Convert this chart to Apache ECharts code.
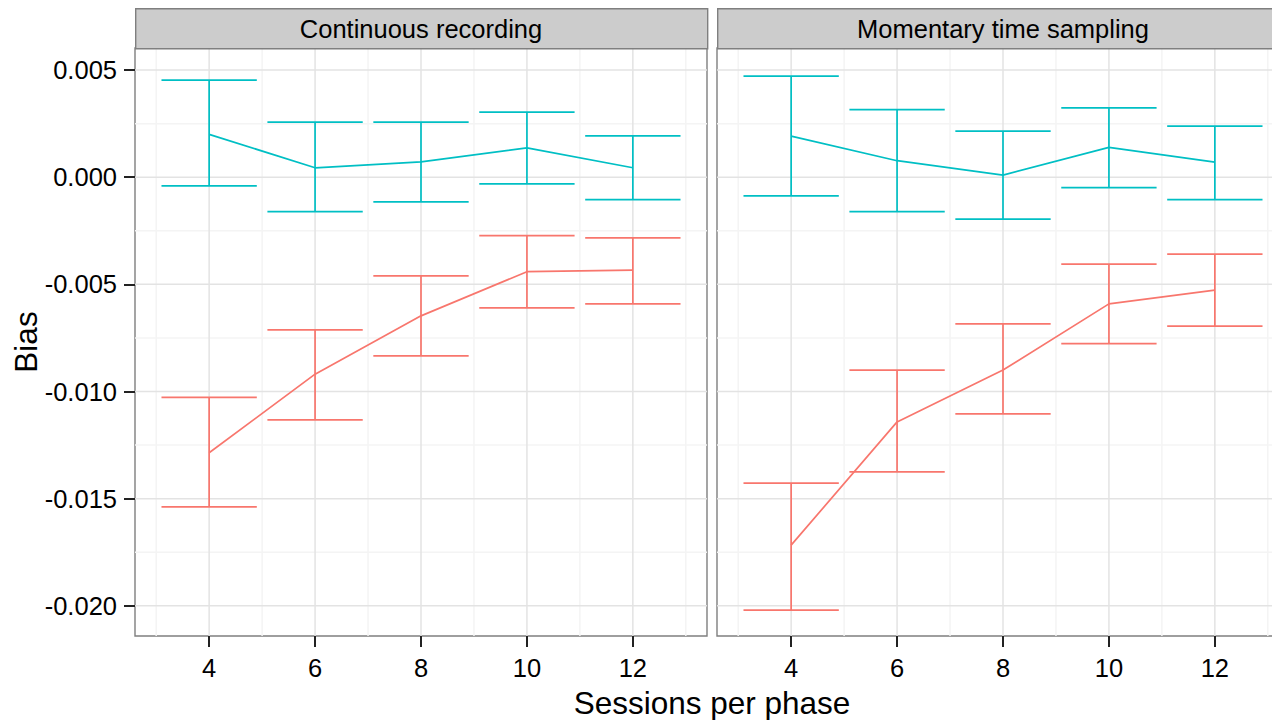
<!DOCTYPE html>
<html>
<head>
<meta charset="utf-8">
<title>Bias by sessions per phase</title>
<script src="https://cdn.jsdelivr.net/npm/echarts@6/dist/echarts.min.js"></script>
<style>
  html, body { margin: 0; padding: 0; background: #ffffff; overflow: hidden; width: 1272px; height: 720px; }
  #chart { width: 1290px; height: 720px; }
</style>
</head>
<body>
<div id="chart"></div>
<script>
// Sessions per phase (x positions of the estimates)
const sessions = [4, 6, 8, 10, 12];
const panelTitles = ['Continuous recording', 'Momentary time sampling'];

// Continuous recording: estimate with lower / upper interval bounds
const crRedMean  = [-0.01286, -0.00919, -0.00647, -0.00441, -0.00434];
const crRedLower = [-0.01538, -0.01132, -0.00834, -0.00610, -0.00591];
const crRedUpper = [-0.01027, -0.00712, -0.00460, -0.00273, -0.00283];
const crTealMean  = [0.00200, 0.00044, 0.00072, 0.00137, 0.00044];
const crTealLower = [-0.00040, -0.00161, -0.00115, -0.00031, -0.00105];
const crTealUpper = [0.00453, 0.00257, 0.00257, 0.00304, 0.00193];

// Momentary time sampling
const mtsRedMean  = [-0.01717, -0.01142, -0.00900, -0.00591, -0.00527];
const mtsRedLower = [-0.02020, -0.01375, -0.01104, -0.00777, -0.00695];
const mtsRedUpper = [-0.01428, -0.00900, -0.00684, -0.00406, -0.00359];
const mtsTealMean  = [0.00192, 0.00077, 0.00010, 0.00139, 0.00070];
const mtsTealLower = [-0.00087, -0.00161, -0.00196, -0.00049, -0.00105];
const mtsTealUpper = [0.00472, 0.00315, 0.00215, 0.00324, 0.00238];

// Axis ticks and labels
const xTicks = [4, 6, 8, 10, 12];
const xMinorTicks = [3, 5, 7, 9, 11, 13];
const yTicks = [-0.02, -0.015, -0.01, -0.005, 0, 0.005];
const yTickLabels = ['-0.020', '-0.015', '-0.010', '-0.005', '0.000', '0.005'];
const yMinorTicks = [-0.0175, -0.0125, -0.0075, -0.0025, 0.0025];

const RED = '#F8766D';
const TEAL = '#00BFC4';
const FONT = "'Liberation Sans', Arial, Helvetica, sans-serif";
const X_MIN = 2.6, X_MAX = 13.4;
const Y_MIN = -0.02141, Y_MAX = 0.00603;
const CAP_HALF = 0.9;
const MARK_WIDTH = 1.7;

const panels = [
  { red: [crRedMean, crRedLower, crRedUpper], teal: [crTealMean, crTealLower, crTealUpper] },
  { red: [mtsRedMean, mtsRedLower, mtsRedUpper], teal: [mtsTealMean, mtsTealLower, mtsTealUpper] }
];

// the second panel runs past the right edge of the 1272px view
const gridBoxes = [
  { left: 135, top: 48, width: 572, height: 588 },
  { left: 717, top: 48, width: 572, height: 588 }
];

// grid lines: [value, 0 = vertical / 1 = horizontal, 1 = major]
const gridLineData = [];
xMinorTicks.forEach(v => gridLineData.push([v, 0, 0]));
yMinorTicks.forEach(v => gridLineData.push([v, 1, 0]));
xTicks.forEach(v => gridLineData.push([v, 0, 1]));
yTicks.forEach(v => gridLineData.push([v, 1, 1]));

function renderGridLine(params, api) {
  const v = api.value(0);
  const vertical = api.value(1) === 0;
  const major = api.value(2) === 1;
  const cs = params.coordSys;
  let shape;
  if (vertical) {
    const px = api.coord([v, Y_MIN])[0];
    shape = { x1: px, y1: cs.y, x2: px, y2: cs.y + cs.height };
  } else {
    const py = api.coord([X_MIN, v])[1];
    shape = { x1: cs.x, y1: py, x2: cs.x + cs.width, y2: py };
  }
  return {
    type: 'line',
    shape: shape,
    style: { stroke: major ? '#E3E3E3' : '#F4F4F4', lineWidth: 1.5 },
    silent: true
  };
}

function renderErrorBar(params, api) {
  const x = api.value(0), lo = api.value(1), hi = api.value(2);
  const color = api.visual('color');
  const top = api.coord([x, hi]);
  const bot = api.coord([x, lo]);
  const left = api.coord([x - CAP_HALF, hi])[0];
  const right = api.coord([x + CAP_HALF, hi])[0];
  const style = { stroke: color, lineWidth: MARK_WIDTH };
  return {
    type: 'group',
    children: [
      { type: 'line', shape: { x1: top[0], y1: top[1], x2: bot[0], y2: bot[1] }, style: style },
      { type: 'line', shape: { x1: left, y1: top[1], x2: right, y2: top[1] }, style: style },
      { type: 'line', shape: { x1: left, y1: bot[1], x2: right, y2: bot[1] }, style: style }
    ]
  };
}

const grids = [], xAxes = [], yAxes = [], series = [];

gridBoxes.forEach((box, i) => {
  grids.push(Object.assign({
    show: true, backgroundColor: '#ffffff', borderColor: '#7F7F7F', borderWidth: 1.4,
    containLabel: false
  }, box));

  xAxes.push({
    type: 'value', gridIndex: i, min: X_MIN, max: X_MAX,
    axisLine: { show: false, onZero: false },
    axisTick: { show: true, customValues: xTicks, length: 11, lineStyle: { color: '#222', width: 2 } },
    axisLabel: { customValues: xTicks, margin: 19, color: '#000', fontSize: 25.5, fontFamily: FONT },
    splitLine: { show: false }
  });

  yAxes.push({
    type: 'value', gridIndex: i, min: Y_MIN, max: Y_MAX,
    axisLine: { show: false, onZero: false },
    axisTick: { show: i === 0, customValues: yTicks, length: 11, lineStyle: { color: '#222', width: 2 } },
    axisLabel: {
      show: i === 0, customValues: yTicks, margin: 18, color: '#000', fontSize: 25.5, fontFamily: FONT,
      formatter: v => {
        const k = yTicks.findIndex(t => Math.abs(t - v) < 1e-9);
        return k >= 0 ? yTickLabels[k] : '';
      }
    },
    splitLine: { show: false }
  });

  series.push({
    type: 'custom', xAxisIndex: i, yAxisIndex: i, z: 1, silent: true,
    renderItem: renderGridLine, data: gridLineData
  });

  const p = panels[i];
  [[p.red, RED], [p.teal, TEAL]].forEach(([arrs, color]) => {
    const [mean, lower, upper] = arrs;
    series.push({
      type: 'custom', xAxisIndex: i, yAxisIndex: i, z: 3,
      itemStyle: { color: color },
      renderItem: renderErrorBar,
      data: sessions.map((s, k) => [s, lower[k], upper[k]])
    });
    series.push({
      type: 'line', xAxisIndex: i, yAxisIndex: i, z: 3,
      showSymbol: false, symbol: 'none',
      lineStyle: { color: color, width: MARK_WIDTH },
      itemStyle: { color: color },
      data: sessions.map((s, k) => [s, mean[k]])
    });
  });
});

// facet strips
const graphics = [];
gridBoxes.forEach((box, i) => {
  graphics.push({
    type: 'rect', left: box.left, top: 8, z: 10,
    shape: { width: box.width, height: 40 },
    style: { fill: '#CCCCCC', stroke: '#7F7F7F', lineWidth: 1.4 }
  });
  graphics.push({
    type: 'text', z: 11,
    x: box.left + box.width / 2, y: 29,
    style: {
      text: panelTitles[i], fill: '#000', fontSize: 25.5, fontFamily: FONT,
      textAlign: 'center', textVerticalAlign: 'middle'
    }
  });
});
// axis titles
graphics.push({
  type: 'text', z: 11, x: 712, y: 703,
  style: { text: 'Sessions per phase', fill: '#000', fontSize: 31.5, fontFamily: FONT,
           textAlign: 'center', textVerticalAlign: 'middle' }
});
graphics.push({
  type: 'text', z: 11, x: 26, y: 342, rotation: Math.PI / 2,
  style: { text: 'Bias', fill: '#000', fontSize: 31.5, fontFamily: FONT,
           textAlign: 'center', textVerticalAlign: 'middle' }
});

const chart = echarts.init(document.getElementById('chart'), null, { renderer: 'svg' });
chart.setOption({
  animation: false,
  backgroundColor: '#ffffff',
  grid: grids,
  xAxis: xAxes,
  yAxis: yAxes,
  series: series,
  graphic: graphics
});
</script>
</body>
</html>
